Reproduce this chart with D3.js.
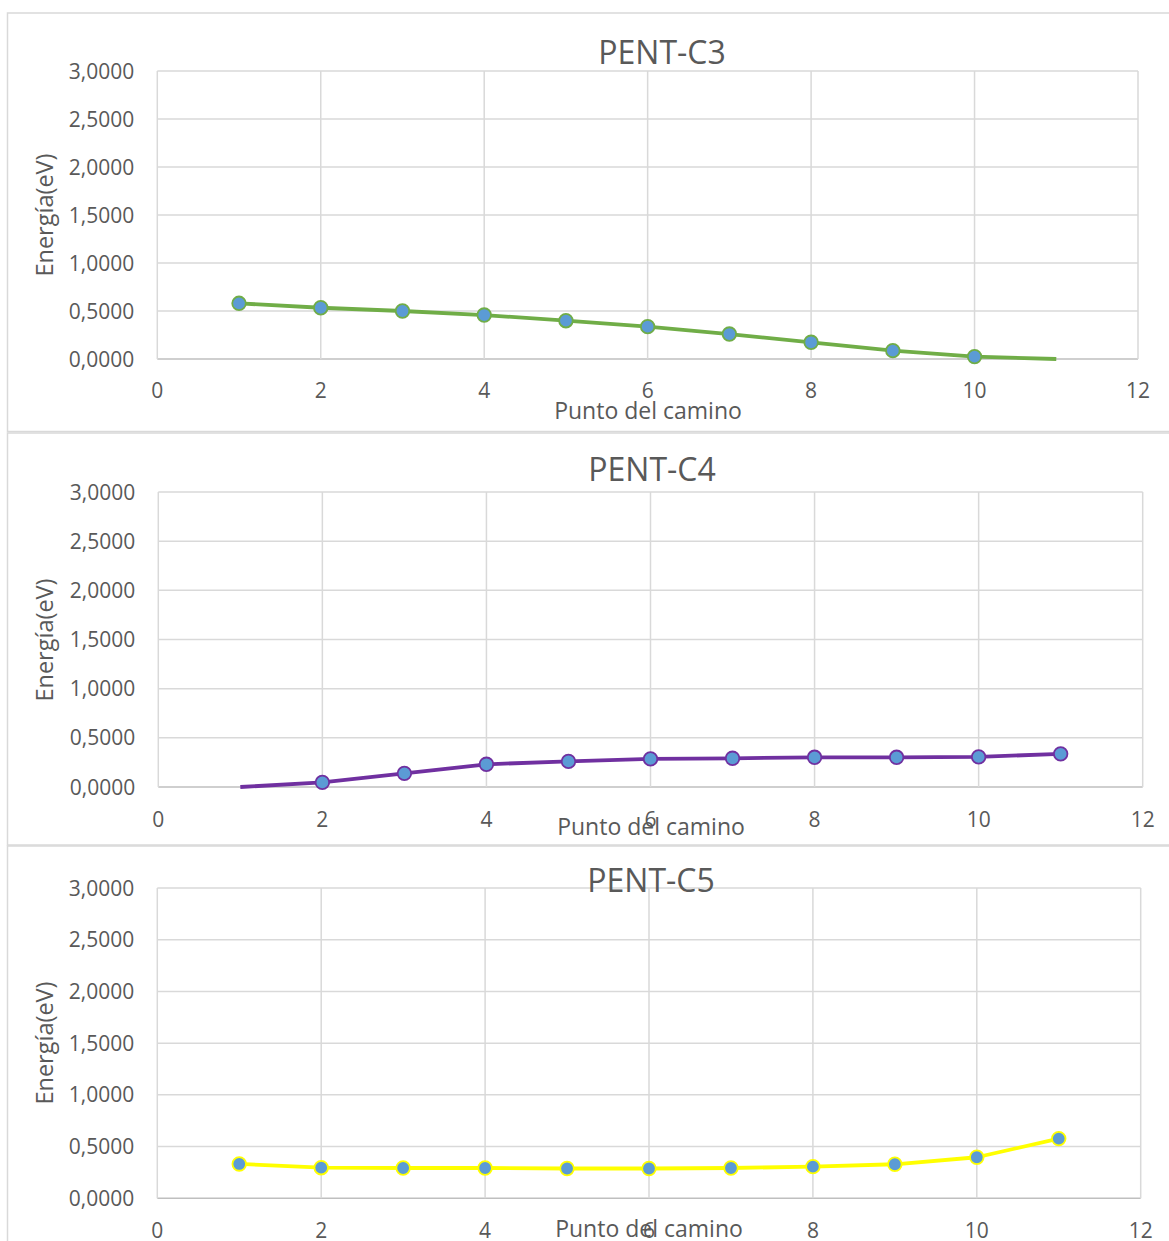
<!DOCTYPE html>
<html>
<head>
<meta charset="utf-8">
<script src="https://cdn.jsdelivr.net/npm/d3@7"></script>
<style>
  html, body { margin: 0; padding: 0; background: #fff; }
  svg { display: block; }
  text { font-family: "Open Sans", "DejaVu Sans", sans-serif; fill: #595959; }
</style>
</head>
<body>
<svg id="chart" width="1169" height="1241"></svg>
<script>
// ---- data ----
const points = [1, 2, 3, 4, 5, 6, 7, 8, 9, 10, 11];
const pentC3 = [0.580, 0.534, 0.500, 0.458, 0.399, 0.337, 0.260, 0.174, 0.087, 0.025, 0.000];
const pentC4 = [0.000, 0.047, 0.139, 0.231, 0.261, 0.286, 0.292, 0.302, 0.302, 0.306, 0.337];
const pentC5 = [0.332, 0.296, 0.293, 0.293, 0.288, 0.288, 0.293, 0.306, 0.329, 0.397, 0.577];
const titles = ["PENT-C3", "PENT-C4", "PENT-C5"];
const xTicks = [0, 2, 4, 6, 8, 10, 12];
const yTicks = [0, 0.5, 1.0, 1.5, 2.0, 2.5, 3.0];
const xTitle = "Punto del camino";
const yTitle = "Energía(eV)";

// ---- layout ----
const panels = [
  { values: pentC3, title: titles[0], color: "#70AD47",
    box: [7.5, 13, 1175, 418.5],
    plot: { l: 157.3, r: 1138, t: 71, b: 359 },
    titleX: 662, titleY: 63.5, xTitleX: 648, xTitleY: 419, xTickY: 398, yTitleY: 215 },
  { values: pentC4, title: titles[1], color: "#7030A0",
    box: [7.5, 433, 1175, 412],
    plot: { l: 158.3, r: 1142.7, t: 492, b: 787 },
    titleX: 652, titleY: 480.5, xTitleX: 651, xTitleY: 835, xTickY: 826.5, yTitleY: 640 },
  { values: pentC5, title: titles[2], color: "#FFFF00",
    box: [7.5, 846, 1175, 420],
    plot: { l: 157.3, r: 1140.7, t: 888, b: 1198.3 },
    titleX: 651, titleY: 892, xTitleX: 649, xTitleY: 1237, xTickY: 1238, yTitleY: 1043 }
];

const svg = d3.select("#chart");
const fmt = v => d3.format(".4f")(v).replace(".", ",");

panels.forEach(p => {
  const g = svg.append("g");
  // panel border
  g.append("rect")
    .attr("x", p.box[0]).attr("y", p.box[1])
    .attr("width", p.box[2]).attr("height", p.box[3])
    .attr("fill", "#fff").attr("stroke", "#D9D9D9").attr("stroke-width", 1.5);

  const x = d3.scaleLinear().domain([0, 12]).range([p.plot.l, p.plot.r]);
  const y = d3.scaleLinear().domain([0, 3]).range([p.plot.b, p.plot.t]);

  // grid
  g.append("g").selectAll("line.h").data(yTicks).join("line")
    .attr("x1", p.plot.l).attr("x2", p.plot.r)
    .attr("y1", d => y(d)).attr("y2", d => y(d))
    .attr("stroke", d => d === 0 ? "#BFBFBF" : "#D9D9D9")
    .attr("stroke-width", 1.5);
  g.append("g").selectAll("line.v").data(xTicks).join("line")
    .attr("y1", p.plot.t).attr("y2", p.plot.b)
    .attr("x1", d => x(d)).attr("x2", d => x(d))
    .attr("stroke", "#D9D9D9").attr("stroke-width", 1.5);

  // y tick labels
  g.append("g").selectAll("text").data(yTicks).join("text")
    .attr("x", p.plot.l - 23).attr("y", d => y(d) + 7.5)
    .attr("text-anchor", "end").style("font-size", "21px")
    .text(d => fmt(d));
  // x tick labels
  g.append("g").selectAll("text").data(xTicks).join("text")
    .attr("x", d => x(d)).attr("y", p.xTickY)
    .attr("text-anchor", "middle").style("font-size", "21px")
    .text(d => d);

  // line
  const data = points.map((pt, i) => ({ x: pt, y: p.values[i] }));
  g.append("path").datum(data)
    .attr("fill", "none").attr("stroke", p.color).attr("stroke-width", 3.8)
    .attr("stroke-linejoin", "round")
    .attr("d", d3.line().x(d => x(d.x)).y(d => y(d.y)));
  g.append("g").selectAll("circle").data(data.filter(d => d.y > 0)).join("circle")
    .attr("cx", d => x(d.x)).attr("cy", d => y(d.y)).attr("r", 6.8)
    .attr("fill", "#5B9BD5").attr("stroke", p.color).attr("stroke-width", 1.8);

  // titles
  g.append("text").attr("x", p.titleX).attr("y", p.titleY)
    .attr("text-anchor", "middle").style("font-size", "32px").text(p.title);
  g.append("text").attr("x", p.xTitleX).attr("y", p.xTitleY)
    .attr("text-anchor", "middle").style("font-size", "23px").text(xTitle);
  g.append("text")
    .attr("transform", `translate(53,${p.yTitleY}) rotate(-90)`)
    .attr("text-anchor", "middle").style("font-size", "23.5px").text(yTitle);
});
</script>
</body>
</html>
